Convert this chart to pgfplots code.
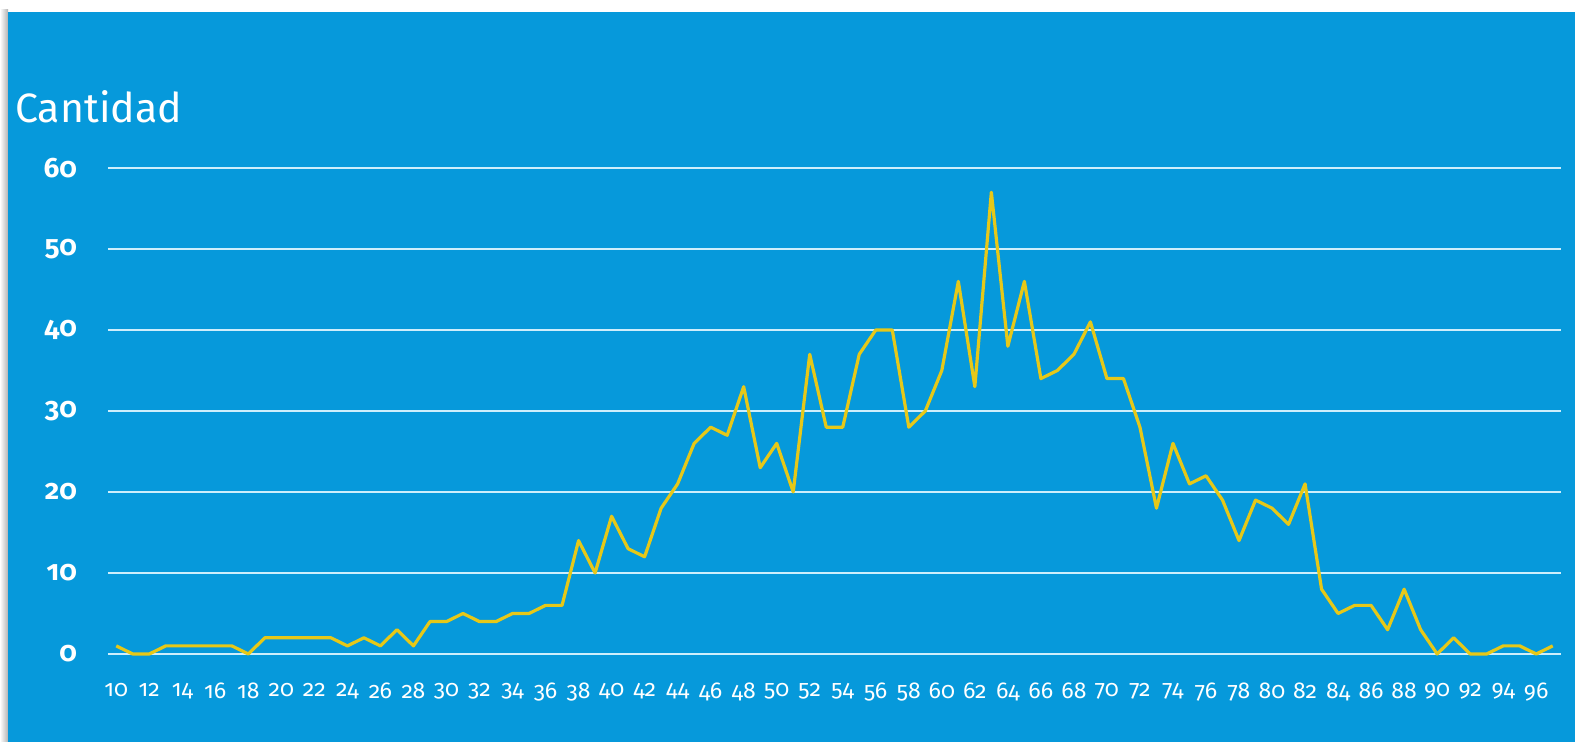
\documentclass[border=0pt]{standalone}
\usepackage{fontspec}
\setmainfont{Fira Sans}[Numbers=OldStyle]
\usepackage{pgfplots}
\pgfplotsset{compat=1.18}
\definecolor{bg}{RGB}{6,153,219}
\definecolor{gridc}{RGB}{205,238,252}
\definecolor{linec}{RGB}{230,200,24}
\begin{document}
\begin{tikzpicture}
\fill[white] (0,0) rectangle (800pt,371pt);
\shade[left color=white,right color=black!30] (0,0) rectangle (4pt,366pt);
\fill[bg] (4pt,-5pt) rectangle (800pt,365pt);
\node[anchor=base west,text=white,font=\fontsize{20.5}{24}\selectfont,inner sep=0pt] at (7.5pt,309.5pt) {Cantidad};
\begin{axis}[
    at={(54pt,44pt)}, anchor=south west,
    scale only axis, width=726.5pt, height=243pt,
    xmin=9.5, xmax=97.5, ymin=0, ymax=60,
    axis line style={draw=none},
    major tick style={draw=none},
    ytick={0,10,...,60},
    xtick={10,12,...,96},
    ymajorgrids,
    major grid style={gridc, line width=0.75pt},
    tick label style={text=white},
    /pgf/number format/assume math mode=true,
    yticklabel style={font=\fontsize{14}{16}\selectfont\bfseries, xshift=-12pt},
    xticklabel style={font=\fontsize{11.5}{13}\selectfont, yshift=-11pt},
    clip=false,
]
\addplot[linec, line width=1.6pt, line join=round] coordinates {
(10,1) (11,0) (12,0) (13,1) (14,1) (15,1) (16,1) (17,1) (18,0) (19,2)
(20,2) (21,2) (22,2) (23,2) (24,1) (25,2) (26,1) (27,3) (28,1) (29,4)
(30,4) (31,5) (32,4) (33,4) (34,5) (35,5) (36,6) (37,6) (38,14) (39,10)
(40,17) (41,13) (42,12) (43,18) (44,21) (45,26) (46,28) (47,27) (48,33) (49,23)
(50,26) (51,20) (52,37) (53,28) (54,28) (55,37) (56,40) (57,40) (58,28) (59,30)
(60,35) (61,46) (62,33) (63,57) (64,38) (65,46) (66,34) (67,35) (68,37) (69,41)
(70,34) (71,34) (72,28) (73,18) (74,26) (75,21) (76,22) (77,19) (78,14) (79,19)
(80,18) (81,16) (82,21) (83,8) (84,5) (85,6) (86,6) (87,3) (88,8) (89,3)
(90,0) (91,2) (92,0) (93,0) (94,1) (95,1) (96,0) (97,1)
};
\end{axis}
\pgfresetboundingbox
\path[use as bounding box] (0,0) rectangle (787.5pt,371pt);
\end{tikzpicture}
\end{document}
